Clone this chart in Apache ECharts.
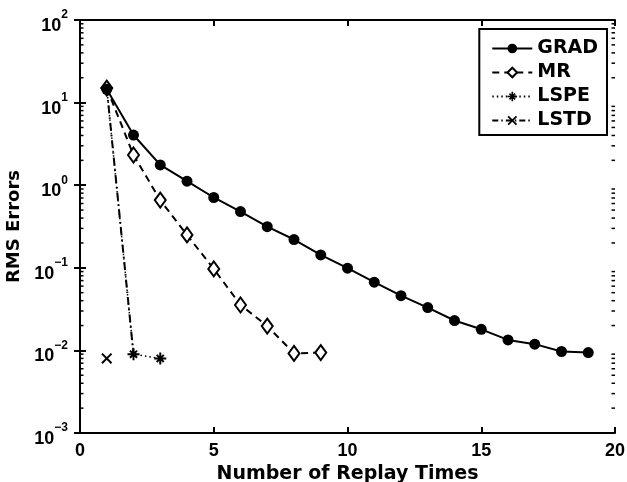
<!DOCTYPE html>
<html>
<head>
<meta charset="utf-8">
<script src="https://cdn.jsdelivr.net/npm/echarts@6/dist/echarts.min.js"></script>
<style>
  html, body { margin: 0; padding: 0; background: #fff; }
  #chart { width: 627px; height: 482px; }
</style>
</head>
<body>
<div id="chart"></div>
<script>
// Replay counts and RMS errors per method
const gradX = [1, 2, 3, 4, 5, 6, 7, 8, 9, 10, 11, 12, 13, 14, 15, 16, 17, 18, 19];
const gradY = [14.5, 4.05, 1.76, 1.12, 0.71, 0.48, 0.315, 0.22, 0.143, 0.099, 0.067, 0.046, 0.033, 0.023, 0.018, 0.0134, 0.0119, 0.0097, 0.0094];
const mrX = [1, 2, 3, 4, 5, 6, 7, 8, 9];
const mrY = [15, 2.32, 0.66, 0.25, 0.097, 0.0355, 0.0197, 0.0092, 0.0094];
const lspeX = [1, 2, 3];
const lspeY = [15, 0.009, 0.008];
const lstdX = [1];
const lstdY = [0.008];

const xTicks = [0, 5, 10, 15, 20];
const yDecades = [-3, -2, -1, 0, 1, 2];
const minorMantissas = [2, 3, 4, 5, 6, 7, 8, 9];

const pairs = (xs, ys) => xs.map((x, i) => [x, ys[i]]);

// log-axis minor tick positions (2..9 x 10^k)
const minorTicks = [];
yDecades.slice(0, -1).forEach(k => {
  minorMantissas.forEach(m => minorTicks.push([0, m * Math.pow(10, k)]));
});

const starPath = 'path://M-6,-1L6,-1L6,1L-6,1Z M-1,-6L1,-6L1,6L-1,6Z ' +
  'M-4.24,-2.83L-2.83,-4.24L4.24,2.83L2.83,4.24Z M-2.83,4.24L-4.24,2.83L2.83,-4.24L4.24,-2.83Z';
const crossPath = 'path://M-5.4,-4.0L-4.0,-5.4L5.4,4.0L4.0,5.4Z M-4.0,5.4L-5.4,4.0L4.0,-5.4L5.4,-4.0Z';

const tickFont = 'Liberation Sans, Arial, sans-serif';
const titleFont = 'DejaVu Sans, sans-serif';
const XMIN = 0, XMAX = 20;

const chart = echarts.init(document.getElementById('chart'), null, { renderer: 'canvas' });

const axisLine = { show: true, lineStyle: { color: '#000', width: 2 } };
const majorTick = { show: true, inside: true, length: 6, lineStyle: { color: '#000', width: 2 } };

chart.setOption({
  animation: false,
  backgroundColor: '#fff',
  grid: { left: 80, right: 12, top: 20, bottom: 49, containLabel: false, outerBoundsMode: 'none' },
  legend: {
    data: ['GRAD', 'MR', 'LSPE', 'LSTD'],
    orient: 'vertical',
    right: 20,
    top: 29,
    padding: [10, 9, 5, 12],
    itemGap: 5,
    itemWidth: 40,
    itemHeight: 12,
    borderColor: '#000',
    borderWidth: 2,
    borderRadius: 0,
    backgroundColor: '#fff',
    textStyle: { color: '#000', fontFamily: titleFont, fontWeight: 'bold', fontSize: 19 }
  },
  xAxis: [{
    type: 'value',
    min: XMIN, max: XMAX, interval: 5,
    name: 'Number of Replay Times',
    nameLocation: 'middle',
    nameGap: 31,
    nameTextStyle: { color: '#000', fontFamily: titleFont, fontWeight: 'bold', fontSize: 19 },
    axisLine: axisLine,
    axisTick: majorTick,
    axisLabel: { color: '#000', fontFamily: tickFont, fontWeight: 'bold', fontSize: 18, margin: 9 },
    splitLine: { show: false }
  }, {
    type: 'value',
    position: 'top',
    min: XMIN, max: XMAX, interval: 5,
    axisLine: axisLine,
    axisTick: majorTick,
    axisLabel: { show: false },
    splitLine: { show: false }
  }],
  yAxis: [{
    type: 'log',
    logBase: 10,
    min: 0.001, max: 100,
    interval: 1,
    name: 'RMS Errors',
    nameLocation: 'middle',
    nameGap: 48,
    nameTextStyle: { color: '#000', fontFamily: titleFont, fontWeight: 'bold', fontSize: 18 },
    axisLine: axisLine,
    axisTick: majorTick,
    axisLabel: {
      margin: 12,
      padding: [4, 0, 0, 0],
      formatter: v => {
        const e = Math.round(Math.log10(v));
        return '{b|10}{s|' + (e < 0 ? '\u2212' + (-e) : e) + '}';
      },
      rich: {
        b: { color: '#000', fontFamily: tickFont, fontWeight: 'bold', fontSize: 18, lineHeight: 26, verticalAlign: 'bottom' },
        s: { color: '#000', fontFamily: tickFont, fontWeight: 'bold', fontSize: 12, lineHeight: 26, verticalAlign: 'top' }
      }
    },
    splitLine: { show: false }
  }, {
    type: 'log',
    logBase: 10,
    position: 'right',
    min: 0.001, max: 100,
    interval: 1,
    axisLine: axisLine,
    axisTick: majorTick,
    axisLabel: { show: false },
    splitLine: { show: false }
  }],
  series: [
    {
      name: 'minor ticks',
      type: 'custom',
      silent: true,
      z: 1,
      data: minorTicks,
      renderItem: (params, api) => {
        const v = api.value(1);
        const l = api.coord([XMIN, v]);
        const r = api.coord([XMAX, v]);
        const style = { stroke: '#000', lineWidth: 1.5 };
        return {
          type: 'group',
          children: [
            { type: 'line', shape: { x1: l[0], y1: l[1], x2: l[0] + 3.5, y2: l[1] }, style },
            { type: 'line', shape: { x1: r[0], y1: r[1], x2: r[0] - 3.5, y2: r[1] }, style }
          ]
        };
      }
    },
    {
      name: 'GRAD',
      type: 'line',
      data: pairs(gradX, gradY),
      symbol: 'circle',
      symbolSize: 11,
      itemStyle: { color: '#000' },
      lineStyle: { color: '#000', width: 2, type: 'solid' },
      z: 5
    },
    {
      name: 'MR',
      type: 'line',
      data: pairs(mrX, mrY),
      symbol: 'diamond',
      symbolSize: [11, 15],
      itemStyle: { color: '#fff', borderColor: '#000', borderWidth: 2 },
      lineStyle: { color: '#000', width: 2, type: [7, 5] },
      z: 4
    },
    {
      name: 'LSPE',
      type: 'line',
      data: pairs(lspeX, lspeY),
      symbol: starPath,
      symbolSize: 12,
      itemStyle: { color: '#000' },
      lineStyle: { color: '#000', width: 1.5, type: [1.5, 3] },
      z: 3
    },
    {
      // dash-dot drop of the first LSPE step
      name: 'LSPE step',
      type: 'line',
      data: pairs(lspeX.slice(0, 2), lspeY.slice(0, 2)),
      symbol: 'none',
      lineStyle: { color: '#000', width: 2, type: [8, 4, 1.5, 4] },
      z: 3
    },
    {
      name: 'LSTD',
      type: 'line',
      data: pairs(lstdX, lstdY),
      symbol: crossPath,
      symbolSize: 11,
      itemStyle: { color: '#000' },
      lineStyle: { color: '#000', width: 1.5, type: [6, 3, 1.5, 3] },
      z: 3
    }
  ]
});
</script>
</body>
</html>
